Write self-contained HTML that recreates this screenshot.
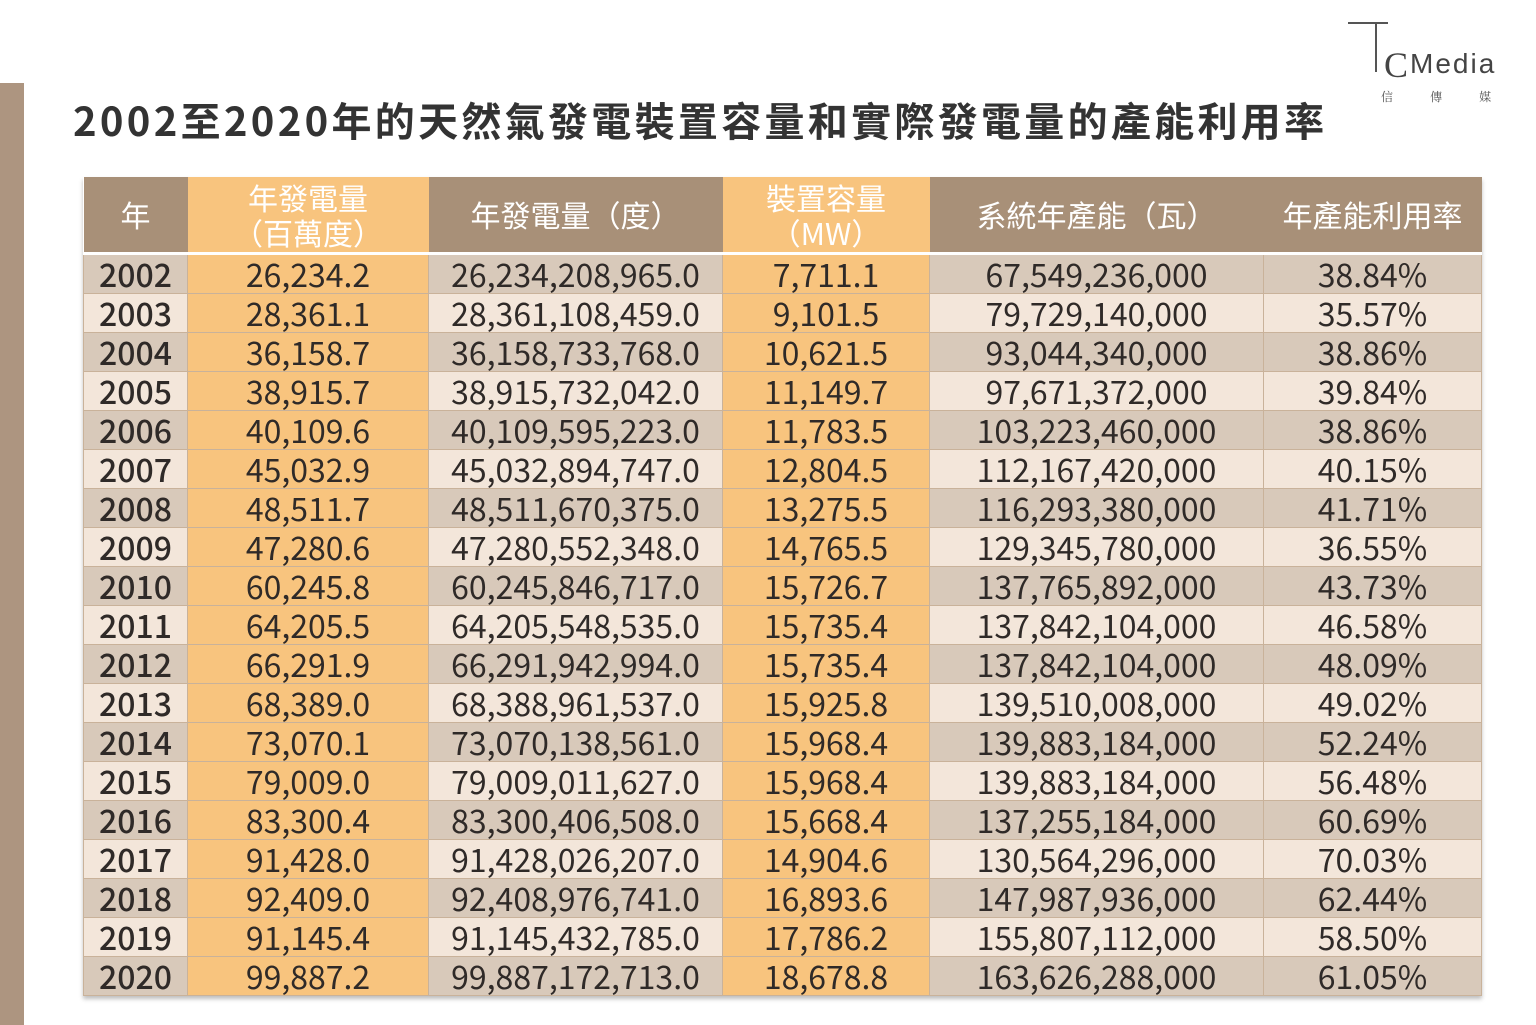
<!DOCTYPE html>
<html><head><meta charset="utf-8"><style>
body{margin:0;width:1536px;height:1025px;background:#fff;position:relative;overflow:hidden;font-family:"Liberation Sans","Noto Sans CJK TC",sans-serif;}
.bar{position:absolute;left:0;top:83px;width:24px;height:942px;background:#ad9580;}
.title{position:absolute;left:73px;top:90px;font-size:40px;font-weight:bold;color:#333;letter-spacing:3.3px;white-space:nowrap;font-family:"Noto Sans CJK TC",sans-serif;}
table{position:absolute;left:83px;top:177px;border-collapse:collapse;box-shadow:0 3px 4px rgba(0,0,0,0.25);table-layout:fixed;}
td{padding:0;text-align:center;font-size:32px;color:#2f2a28;height:38px;line-height:38px;border:1px solid #c9b29a;white-space:nowrap;overflow:hidden;font-family:"Noto Sans CJK TC",sans-serif;}
th{background:#a89078;color:#fff;font-weight:normal;font-size:30px;height:75px;line-height:35px;border-bottom:3px solid #fff;padding:0;font-family:"Noto Sans CJK TC",sans-serif;}
th.o{background:#f8c47e;}
tr.d td{background:#d8c9ba;}
tr.l td{background:#f3e6da;}
tr td.o{background:#f8c47e !important;}
td.y{font-weight:500;}
</style></head><body>
<div class="bar"></div>
<div class="title">2002至2020年的天然氣發電裝置容量和實際發電量的產能利用率</div>
<div style="position:absolute;left:1348px;top:22px;width:40px;height:2px;background:#555"></div>
<div style="position:absolute;left:1375px;top:22px;width:2px;height:50px;background:#555"></div>
<div style="position:absolute;left:1384px;top:44px;font-size:36px;color:#444;font-family:'Liberation Serif',serif">C</div>
<div style="position:absolute;left:1410px;top:48px;font-size:28px;color:#444;letter-spacing:2px">Media</div>
<div style="position:absolute;left:1381px;top:88px;font-size:12px;color:#555;word-spacing:34px;font-family:'Noto Serif CJK SC',serif">信 傳 媒</div>
<table>
<colgroup><col style="width:104px"><col style="width:241px"><col style="width:294px"><col style="width:207px"><col style="width:334px"><col style="width:218px"></colgroup>
<tr><th>年</th><th class="o">年發電量<br>（百萬度）</th><th>年發電量（度）</th><th class="o">裝置容量<br>（MW）</th><th>系統年產能（瓦）</th><th>年產能利用率</th></tr>
<tr class="d"><td class="y">2002</td><td class="o">26,234.2</td><td>26,234,208,965.0</td><td class="o">7,711.1</td><td>67,549,236,000</td><td>38.84%</td></tr>
<tr class="l"><td class="y">2003</td><td class="o">28,361.1</td><td>28,361,108,459.0</td><td class="o">9,101.5</td><td>79,729,140,000</td><td>35.57%</td></tr>
<tr class="d"><td class="y">2004</td><td class="o">36,158.7</td><td>36,158,733,768.0</td><td class="o">10,621.5</td><td>93,044,340,000</td><td>38.86%</td></tr>
<tr class="l"><td class="y">2005</td><td class="o">38,915.7</td><td>38,915,732,042.0</td><td class="o">11,149.7</td><td>97,671,372,000</td><td>39.84%</td></tr>
<tr class="d"><td class="y">2006</td><td class="o">40,109.6</td><td>40,109,595,223.0</td><td class="o">11,783.5</td><td>103,223,460,000</td><td>38.86%</td></tr>
<tr class="l"><td class="y">2007</td><td class="o">45,032.9</td><td>45,032,894,747.0</td><td class="o">12,804.5</td><td>112,167,420,000</td><td>40.15%</td></tr>
<tr class="d"><td class="y">2008</td><td class="o">48,511.7</td><td>48,511,670,375.0</td><td class="o">13,275.5</td><td>116,293,380,000</td><td>41.71%</td></tr>
<tr class="l"><td class="y">2009</td><td class="o">47,280.6</td><td>47,280,552,348.0</td><td class="o">14,765.5</td><td>129,345,780,000</td><td>36.55%</td></tr>
<tr class="d"><td class="y">2010</td><td class="o">60,245.8</td><td>60,245,846,717.0</td><td class="o">15,726.7</td><td>137,765,892,000</td><td>43.73%</td></tr>
<tr class="l"><td class="y">2011</td><td class="o">64,205.5</td><td>64,205,548,535.0</td><td class="o">15,735.4</td><td>137,842,104,000</td><td>46.58%</td></tr>
<tr class="d"><td class="y">2012</td><td class="o">66,291.9</td><td>66,291,942,994.0</td><td class="o">15,735.4</td><td>137,842,104,000</td><td>48.09%</td></tr>
<tr class="l"><td class="y">2013</td><td class="o">68,389.0</td><td>68,388,961,537.0</td><td class="o">15,925.8</td><td>139,510,008,000</td><td>49.02%</td></tr>
<tr class="d"><td class="y">2014</td><td class="o">73,070.1</td><td>73,070,138,561.0</td><td class="o">15,968.4</td><td>139,883,184,000</td><td>52.24%</td></tr>
<tr class="l"><td class="y">2015</td><td class="o">79,009.0</td><td>79,009,011,627.0</td><td class="o">15,968.4</td><td>139,883,184,000</td><td>56.48%</td></tr>
<tr class="d"><td class="y">2016</td><td class="o">83,300.4</td><td>83,300,406,508.0</td><td class="o">15,668.4</td><td>137,255,184,000</td><td>60.69%</td></tr>
<tr class="l"><td class="y">2017</td><td class="o">91,428.0</td><td>91,428,026,207.0</td><td class="o">14,904.6</td><td>130,564,296,000</td><td>70.03%</td></tr>
<tr class="d"><td class="y">2018</td><td class="o">92,409.0</td><td>92,408,976,741.0</td><td class="o">16,893.6</td><td>147,987,936,000</td><td>62.44%</td></tr>
<tr class="l"><td class="y">2019</td><td class="o">91,145.4</td><td>91,145,432,785.0</td><td class="o">17,786.2</td><td>155,807,112,000</td><td>58.50%</td></tr>
<tr class="d"><td class="y">2020</td><td class="o">99,887.2</td><td>99,887,172,713.0</td><td class="o">18,678.8</td><td>163,626,288,000</td><td>61.05%</td></tr>
</table>
</body></html>
